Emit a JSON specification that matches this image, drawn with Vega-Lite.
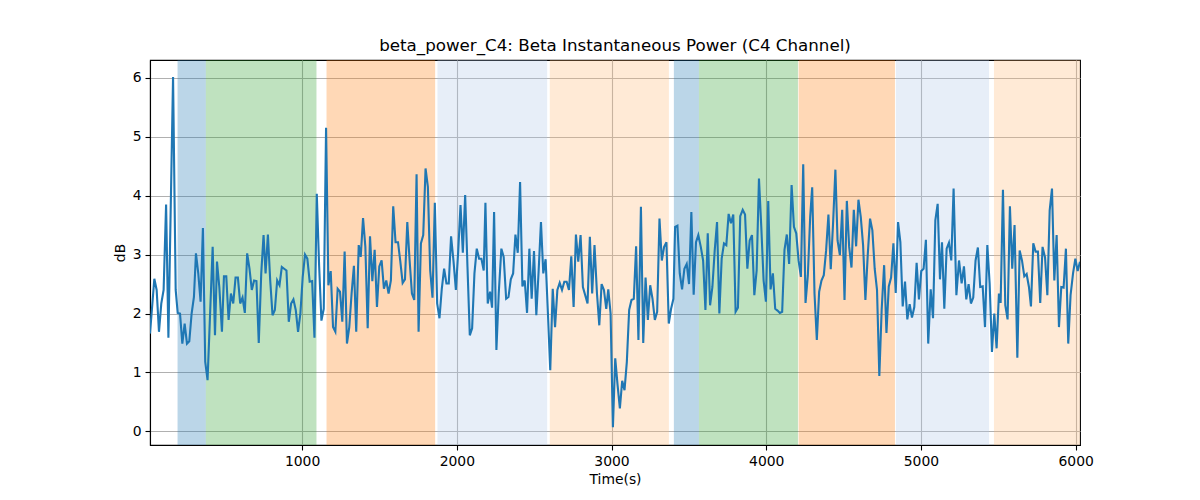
{
  "$schema": "https://vega.github.io/schema/vega-lite/v6.json",
  "width": 930,
  "height": 385,
  "autosize": {"type": "none"},
  "padding": {"left": 150, "top": 60, "right": 120, "bottom": 55},
  "background": "white",
  "config": {
    "font": "DejaVu Sans",
    "view": {"stroke": "black", "strokeWidth": 1.1},
    "axis": {
      "grid": true,
      "gridColor": "#b0b0b0",
      "gridWidth": 1.1,
      "domainColor": "black",
      "domainWidth": 1.1,
      "tickColor": "black",
      "tickWidth": 1.1,
      "tickSize": 5,
      "labelPadding": 4,
      "labelFont": "DejaVu Sans",
      "labelFontSize": 13.9,
      "labelColor": "black",
      "titleFont": "DejaVu Sans",
      "titleFontSize": 13.9,
      "titleFontWeight": "normal",
      "titleColor": "black",
      "titlePadding": 5
    }
  },
  "title": {
    "text": "beta_power_C4: Beta Instantaneous Power (C4 Channel)",
    "font": "DejaVu Sans",
    "fontSize": 16.7,
    "fontWeight": "normal",
    "color": "black",
    "anchor": "middle",
    "frame": "group",
    "baseline": "alphabetic",
    "offset": -8
  },
  "datasets": {
    "spans": [
      {"start": 195, "end": 378, "band": "blue"},
      {"start": 378, "end": 1093, "band": "green"},
      {"start": 1158, "end": 1860, "band": "orange"},
      {"start": 1875, "end": 2584, "band": "lightblue"},
      {"start": 2601, "end": 3371, "band": "lightorange"},
      {"start": 3403, "end": 3565, "band": "blue"},
      {"start": 3565, "end": 4205, "band": "green"},
      {"start": 4209, "end": 4832, "band": "orange"},
      {"start": 4838, "end": 5440, "band": "lightblue"},
      {"start": 5472, "end": 6028, "band": "lightorange"}
    ],
    "power": [
      {"time": 17, "dB": 1.66}, {"time": 45, "dB": 2.59}, {"time": 60, "dB": 2.40}, {"time": 75, "dB": 1.69},
      {"time": 90, "dB": 2.17}, {"time": 105, "dB": 2.40}, {"time": 121, "dB": 3.85}, {"time": 136, "dB": 1.59},
      {"time": 166, "dB": 6.01}, {"time": 183, "dB": 2.40}, {"time": 196, "dB": 2.01}, {"time": 211, "dB": 2.00},
      {"time": 226, "dB": 1.49}, {"time": 241, "dB": 1.83}, {"time": 256, "dB": 1.49}, {"time": 271, "dB": 1.53},
      {"time": 286, "dB": 2.00}, {"time": 301, "dB": 2.28}, {"time": 314, "dB": 3.02}, {"time": 329, "dB": 2.68},
      {"time": 344, "dB": 2.20}, {"time": 359, "dB": 3.45}, {"time": 374, "dB": 1.18}, {"time": 389, "dB": 0.87},
      {"time": 422, "dB": 3.13}, {"time": 437, "dB": 1.63}, {"time": 450, "dB": 2.88}, {"time": 465, "dB": 2.45},
      {"time": 482, "dB": 1.69}, {"time": 495, "dB": 2.63}, {"time": 510, "dB": 2.63}, {"time": 525, "dB": 1.89},
      {"time": 540, "dB": 2.34}, {"time": 555, "dB": 2.17}, {"time": 570, "dB": 2.61}, {"time": 585, "dB": 2.61},
      {"time": 600, "dB": 2.17}, {"time": 615, "dB": 2.27}, {"time": 630, "dB": 2.01}, {"time": 645, "dB": 3.02},
      {"time": 660, "dB": 2.76}, {"time": 675, "dB": 2.40}, {"time": 690, "dB": 2.56}, {"time": 705, "dB": 2.55},
      {"time": 720, "dB": 1.50}, {"time": 736, "dB": 2.68}, {"time": 751, "dB": 3.33}, {"time": 764, "dB": 2.68},
      {"time": 779, "dB": 3.34}, {"time": 794, "dB": 2.56}, {"time": 809, "dB": 1.97}, {"time": 824, "dB": 2.06},
      {"time": 839, "dB": 2.56}, {"time": 854, "dB": 2.48}, {"time": 869, "dB": 2.79}, {"time": 884, "dB": 2.76},
      {"time": 899, "dB": 2.73}, {"time": 914, "dB": 1.86}, {"time": 929, "dB": 2.17}, {"time": 944, "dB": 2.24},
      {"time": 959, "dB": 2.06}, {"time": 974, "dB": 1.69}, {"time": 989, "dB": 2.00}, {"time": 1004, "dB": 2.62},
      {"time": 1019, "dB": 3.00}, {"time": 1034, "dB": 2.93}, {"time": 1049, "dB": 2.54}, {"time": 1065, "dB": 2.55},
      {"time": 1080, "dB": 1.59}, {"time": 1095, "dB": 4.03}, {"time": 1110, "dB": 2.82}, {"time": 1125, "dB": 1.88},
      {"time": 1140, "dB": 2.08}, {"time": 1155, "dB": 5.15}, {"time": 1170, "dB": 2.48}, {"time": 1185, "dB": 2.72},
      {"time": 1200, "dB": 1.77}, {"time": 1215, "dB": 1.69}, {"time": 1230, "dB": 2.42}, {"time": 1245, "dB": 2.37},
      {"time": 1260, "dB": 1.86}, {"time": 1275, "dB": 3.05}, {"time": 1290, "dB": 1.49}, {"time": 1305, "dB": 1.77},
      {"time": 1320, "dB": 2.34}, {"time": 1335, "dB": 2.81}, {"time": 1350, "dB": 1.69}, {"time": 1366, "dB": 3.16},
      {"time": 1379, "dB": 2.96}, {"time": 1394, "dB": 3.62}, {"time": 1409, "dB": 3.13}, {"time": 1424, "dB": 1.75},
      {"time": 1439, "dB": 3.31}, {"time": 1454, "dB": 2.55}, {"time": 1469, "dB": 3.08}, {"time": 1484, "dB": 2.11},
      {"time": 1499, "dB": 2.80}, {"time": 1514, "dB": 2.90}, {"time": 1529, "dB": 2.42}, {"time": 1544, "dB": 2.56},
      {"time": 1559, "dB": 2.34}, {"time": 1574, "dB": 2.56}, {"time": 1589, "dB": 3.82}, {"time": 1604, "dB": 3.21},
      {"time": 1620, "dB": 3.21}, {"time": 1635, "dB": 2.88}, {"time": 1650, "dB": 2.52}, {"time": 1665, "dB": 2.58},
      {"time": 1680, "dB": 3.55}, {"time": 1695, "dB": 2.90}, {"time": 1710, "dB": 2.34}, {"time": 1725, "dB": 2.23},
      {"time": 1740, "dB": 4.36}, {"time": 1753, "dB": 1.69}, {"time": 1768, "dB": 3.19}, {"time": 1783, "dB": 3.33},
      {"time": 1798, "dB": 4.46}, {"time": 1813, "dB": 4.15}, {"time": 1828, "dB": 2.73}, {"time": 1843, "dB": 2.27},
      {"time": 1858, "dB": 3.88}, {"time": 1873, "dB": 2.17}, {"time": 1888, "dB": 1.92}, {"time": 1903, "dB": 2.42},
      {"time": 1918, "dB": 2.76}, {"time": 1933, "dB": 2.51}, {"time": 1948, "dB": 2.51}, {"time": 1963, "dB": 3.31},
      {"time": 1979, "dB": 2.88}, {"time": 1994, "dB": 2.40}, {"time": 2009, "dB": 3.05}, {"time": 2024, "dB": 3.84},
      {"time": 2039, "dB": 3.03}, {"time": 2054, "dB": 4.01}, {"time": 2069, "dB": 2.79}, {"time": 2084, "dB": 1.63},
      {"time": 2099, "dB": 1.75}, {"time": 2114, "dB": 2.68}, {"time": 2129, "dB": 3.10}, {"time": 2144, "dB": 2.93},
      {"time": 2159, "dB": 2.93}, {"time": 2174, "dB": 2.73}, {"time": 2185, "dB": 3.88}, {"time": 2200, "dB": 2.17},
      {"time": 2215, "dB": 2.37}, {"time": 2228, "dB": 2.10}, {"time": 2241, "dB": 3.72}, {"time": 2256, "dB": 1.38},
      {"time": 2271, "dB": 2.34}, {"time": 2288, "dB": 3.10}, {"time": 2303, "dB": 2.96}, {"time": 2319, "dB": 2.25},
      {"time": 2334, "dB": 2.28}, {"time": 2349, "dB": 2.58}, {"time": 2364, "dB": 2.68}, {"time": 2379, "dB": 3.34},
      {"time": 2394, "dB": 3.03}, {"time": 2409, "dB": 4.23}, {"time": 2424, "dB": 2.46}, {"time": 2439, "dB": 2.56},
      {"time": 2454, "dB": 2.01}, {"time": 2469, "dB": 3.10}, {"time": 2484, "dB": 2.25}, {"time": 2499, "dB": 3.06},
      {"time": 2514, "dB": 1.97}, {"time": 2529, "dB": 2.73}, {"time": 2544, "dB": 3.55}, {"time": 2559, "dB": 2.68},
      {"time": 2574, "dB": 2.92}, {"time": 2589, "dB": 2.00}, {"time": 2604, "dB": 1.04}, {"time": 2620, "dB": 2.42},
      {"time": 2635, "dB": 1.77}, {"time": 2650, "dB": 2.40}, {"time": 2665, "dB": 2.52}, {"time": 2680, "dB": 2.40},
      {"time": 2695, "dB": 2.54}, {"time": 2710, "dB": 2.54}, {"time": 2725, "dB": 2.40}, {"time": 2740, "dB": 2.97},
      {"time": 2755, "dB": 2.11}, {"time": 2770, "dB": 3.34}, {"time": 2785, "dB": 2.88}, {"time": 2800, "dB": 3.33},
      {"time": 2815, "dB": 2.45}, {"time": 2830, "dB": 2.31}, {"time": 2845, "dB": 2.17}, {"time": 2860, "dB": 3.30},
      {"time": 2875, "dB": 2.34}, {"time": 2890, "dB": 3.16}, {"time": 2906, "dB": 2.34}, {"time": 2921, "dB": 1.80},
      {"time": 2936, "dB": 2.50}, {"time": 2951, "dB": 2.40}, {"time": 2966, "dB": 2.08}, {"time": 2979, "dB": 2.41},
      {"time": 2994, "dB": 2.00}, {"time": 3009, "dB": 0.07}, {"time": 3024, "dB": 1.24}, {"time": 3039, "dB": 0.79},
      {"time": 3054, "dB": 0.39}, {"time": 3069, "dB": 0.86}, {"time": 3084, "dB": 0.70}, {"time": 3099, "dB": 1.18},
      {"time": 3114, "dB": 2.06}, {"time": 3129, "dB": 2.23}, {"time": 3144, "dB": 2.25}, {"time": 3159, "dB": 3.14},
      {"time": 3174, "dB": 1.55}, {"time": 3190, "dB": 3.81}, {"time": 3205, "dB": 1.50}, {"time": 3220, "dB": 2.61},
      {"time": 3235, "dB": 1.89}, {"time": 3250, "dB": 2.48}, {"time": 3265, "dB": 2.25}, {"time": 3280, "dB": 1.89},
      {"time": 3295, "dB": 2.03}, {"time": 3310, "dB": 3.61}, {"time": 3325, "dB": 2.90}, {"time": 3340, "dB": 3.13},
      {"time": 3355, "dB": 3.21}, {"time": 3370, "dB": 1.83}, {"time": 3385, "dB": 2.08}, {"time": 3400, "dB": 2.25},
      {"time": 3411, "dB": 3.47}, {"time": 3426, "dB": 3.49}, {"time": 3441, "dB": 2.68}, {"time": 3456, "dB": 2.41},
      {"time": 3471, "dB": 2.76}, {"time": 3486, "dB": 2.84}, {"time": 3501, "dB": 2.50}, {"time": 3516, "dB": 3.72},
      {"time": 3531, "dB": 2.32}, {"time": 3546, "dB": 3.21}, {"time": 3561, "dB": 3.33}, {"time": 3577, "dB": 3.13},
      {"time": 3592, "dB": 2.90}, {"time": 3607, "dB": 2.06}, {"time": 3622, "dB": 3.36}, {"time": 3637, "dB": 2.14},
      {"time": 3652, "dB": 2.45}, {"time": 3667, "dB": 3.07}, {"time": 3682, "dB": 3.55}, {"time": 3697, "dB": 2.00},
      {"time": 3712, "dB": 2.93}, {"time": 3727, "dB": 3.19}, {"time": 3742, "dB": 3.16}, {"time": 3757, "dB": 3.69},
      {"time": 3772, "dB": 3.53}, {"time": 3787, "dB": 3.68}, {"time": 3802, "dB": 2.03}, {"time": 3817, "dB": 2.10},
      {"time": 3832, "dB": 3.65}, {"time": 3848, "dB": 3.76}, {"time": 3863, "dB": 3.68}, {"time": 3878, "dB": 2.76},
      {"time": 3893, "dB": 3.24}, {"time": 3908, "dB": 3.33}, {"time": 3923, "dB": 2.31}, {"time": 3938, "dB": 2.73},
      {"time": 3953, "dB": 4.29}, {"time": 3968, "dB": 3.47}, {"time": 3983, "dB": 2.56}, {"time": 3998, "dB": 2.20},
      {"time": 4013, "dB": 3.91}, {"time": 4028, "dB": 2.41}, {"time": 4043, "dB": 2.68}, {"time": 4058, "dB": 2.08},
      {"time": 4073, "dB": 2.05}, {"time": 4088, "dB": 2.01}, {"time": 4103, "dB": 2.03}, {"time": 4118, "dB": 3.08},
      {"time": 4133, "dB": 3.34}, {"time": 4148, "dB": 2.84}, {"time": 4164, "dB": 4.18}, {"time": 4179, "dB": 3.47},
      {"time": 4194, "dB": 3.36}, {"time": 4209, "dB": 2.90}, {"time": 4224, "dB": 2.62}, {"time": 4239, "dB": 4.53},
      {"time": 4254, "dB": 2.18}, {"time": 4269, "dB": 2.65}, {"time": 4284, "dB": 3.64}, {"time": 4297, "dB": 4.14},
      {"time": 4312, "dB": 2.34}, {"time": 4327, "dB": 1.55}, {"time": 4342, "dB": 2.37}, {"time": 4357, "dB": 2.56},
      {"time": 4372, "dB": 2.65}, {"time": 4387, "dB": 3.07}, {"time": 4402, "dB": 3.68}, {"time": 4417, "dB": 2.75},
      {"time": 4432, "dB": 3.53}, {"time": 4447, "dB": 4.44}, {"time": 4461, "dB": 3.24}, {"time": 4476, "dB": 2.99},
      {"time": 4491, "dB": 3.76}, {"time": 4506, "dB": 2.23}, {"time": 4521, "dB": 3.91}, {"time": 4536, "dB": 3.13},
      {"time": 4551, "dB": 2.78}, {"time": 4566, "dB": 3.76}, {"time": 4581, "dB": 3.14}, {"time": 4596, "dB": 3.93},
      {"time": 4611, "dB": 3.64}, {"time": 4626, "dB": 3.16}, {"time": 4641, "dB": 2.23}, {"time": 4656, "dB": 2.99},
      {"time": 4671, "dB": 3.61}, {"time": 4686, "dB": 3.41}, {"time": 4701, "dB": 2.76}, {"time": 4716, "dB": 2.40},
      {"time": 4731, "dB": 0.94}, {"time": 4746, "dB": 2.06}, {"time": 4762, "dB": 2.82}, {"time": 4777, "dB": 1.67},
      {"time": 4792, "dB": 2.46}, {"time": 4807, "dB": 2.61}, {"time": 4822, "dB": 3.19}, {"time": 4837, "dB": 2.35},
      {"time": 4852, "dB": 3.55}, {"time": 4867, "dB": 3.21}, {"time": 4882, "dB": 2.12}, {"time": 4897, "dB": 2.54},
      {"time": 4912, "dB": 1.90}, {"time": 4927, "dB": 2.16}, {"time": 4942, "dB": 1.93}, {"time": 4957, "dB": 2.11},
      {"time": 4972, "dB": 2.86}, {"time": 4987, "dB": 2.24}, {"time": 5002, "dB": 2.72}, {"time": 5017, "dB": 2.76},
      {"time": 5032, "dB": 3.25}, {"time": 5047, "dB": 1.49}, {"time": 5063, "dB": 2.41}, {"time": 5078, "dB": 1.92},
      {"time": 5093, "dB": 3.58}, {"time": 5108, "dB": 3.86}, {"time": 5123, "dB": 2.58}, {"time": 5136, "dB": 3.21},
      {"time": 5151, "dB": 2.08}, {"time": 5166, "dB": 3.10}, {"time": 5181, "dB": 3.20}, {"time": 5196, "dB": 2.90},
      {"time": 5211, "dB": 4.12}, {"time": 5229, "dB": 2.31}, {"time": 5246, "dB": 2.90}, {"time": 5263, "dB": 2.51},
      {"time": 5278, "dB": 2.80}, {"time": 5293, "dB": 2.24}, {"time": 5308, "dB": 2.50}, {"time": 5323, "dB": 2.17},
      {"time": 5338, "dB": 2.27}, {"time": 5353, "dB": 2.90}, {"time": 5368, "dB": 3.12}, {"time": 5383, "dB": 2.45},
      {"time": 5399, "dB": 2.46}, {"time": 5414, "dB": 1.77}, {"time": 5429, "dB": 3.16}, {"time": 5444, "dB": 2.51},
      {"time": 5459, "dB": 1.35}, {"time": 5474, "dB": 2.00}, {"time": 5489, "dB": 1.41}, {"time": 5504, "dB": 2.34},
      {"time": 5515, "dB": 2.18}, {"time": 5530, "dB": 4.10}, {"time": 5545, "dB": 2.14}, {"time": 5560, "dB": 1.90},
      {"time": 5575, "dB": 3.82}, {"time": 5590, "dB": 2.76}, {"time": 5605, "dB": 3.50}, {"time": 5623, "dB": 1.25},
      {"time": 5638, "dB": 3.07}, {"time": 5653, "dB": 2.90}, {"time": 5668, "dB": 2.63}, {"time": 5683, "dB": 2.67},
      {"time": 5698, "dB": 2.45}, {"time": 5711, "dB": 2.12}, {"time": 5726, "dB": 3.19}, {"time": 5741, "dB": 3.05},
      {"time": 5756, "dB": 3.05}, {"time": 5771, "dB": 2.18}, {"time": 5786, "dB": 3.13}, {"time": 5802, "dB": 2.95},
      {"time": 5817, "dB": 2.31}, {"time": 5832, "dB": 3.75}, {"time": 5847, "dB": 4.12}, {"time": 5862, "dB": 2.56},
      {"time": 5877, "dB": 3.33}, {"time": 5892, "dB": 1.77}, {"time": 5907, "dB": 2.45}, {"time": 5922, "dB": 2.44},
      {"time": 5937, "dB": 3.10}, {"time": 5952, "dB": 1.49}, {"time": 5967, "dB": 2.31}, {"time": 5983, "dB": 2.68},
      {"time": 5998, "dB": 2.93}, {"time": 6013, "dB": 2.72}, {"time": 6028, "dB": 2.88}
    ]
  },
  "layer": [
    {
      "data": {"name": "spans"},
      "mark": {"type": "rect", "opacity": 0.3},
      "encoding": {
        "x": {
          "field": "start",
          "type": "quantitative",
          "scale": {"domain": [17, 6028], "nice": false, "zero": false},
          "axis": {"title": "Time(s)", "values": [1000, 2000, 3000, 4000, 5000, 6000], "format": "d"}
        },
        "x2": {"field": "end"},
        "color": {
          "field": "band",
          "type": "nominal",
          "scale": {
            "domain": ["blue", "green", "orange", "lightblue", "lightorange"],
            "range": ["#1f77b4", "#2ca02c", "#ff7f0e", "#aec7e8", "#ffbb78"]
          },
          "legend": null
        }
      }
    },
    {
      "data": {"name": "power"},
      "mark": {"type": "line", "color": "#1f77b4", "strokeWidth": 2.1, "clip": true},
      "encoding": {
        "x": {
          "field": "time",
          "type": "quantitative",
          "scale": {"domain": [17, 6028], "nice": false, "zero": false},
          "axis": {"title": "Time(s)", "values": [1000, 2000, 3000, 4000, 5000, 6000], "format": "d"}
        },
        "y": {
          "field": "dB",
          "type": "quantitative",
          "scale": {"domain": [-0.23, 6.3], "nice": false, "zero": false},
          "axis": {"title": "dB", "values": [0, 1, 2, 3, 4, 5, 6], "format": "d"}
        }
      }
    }
  ]
}
